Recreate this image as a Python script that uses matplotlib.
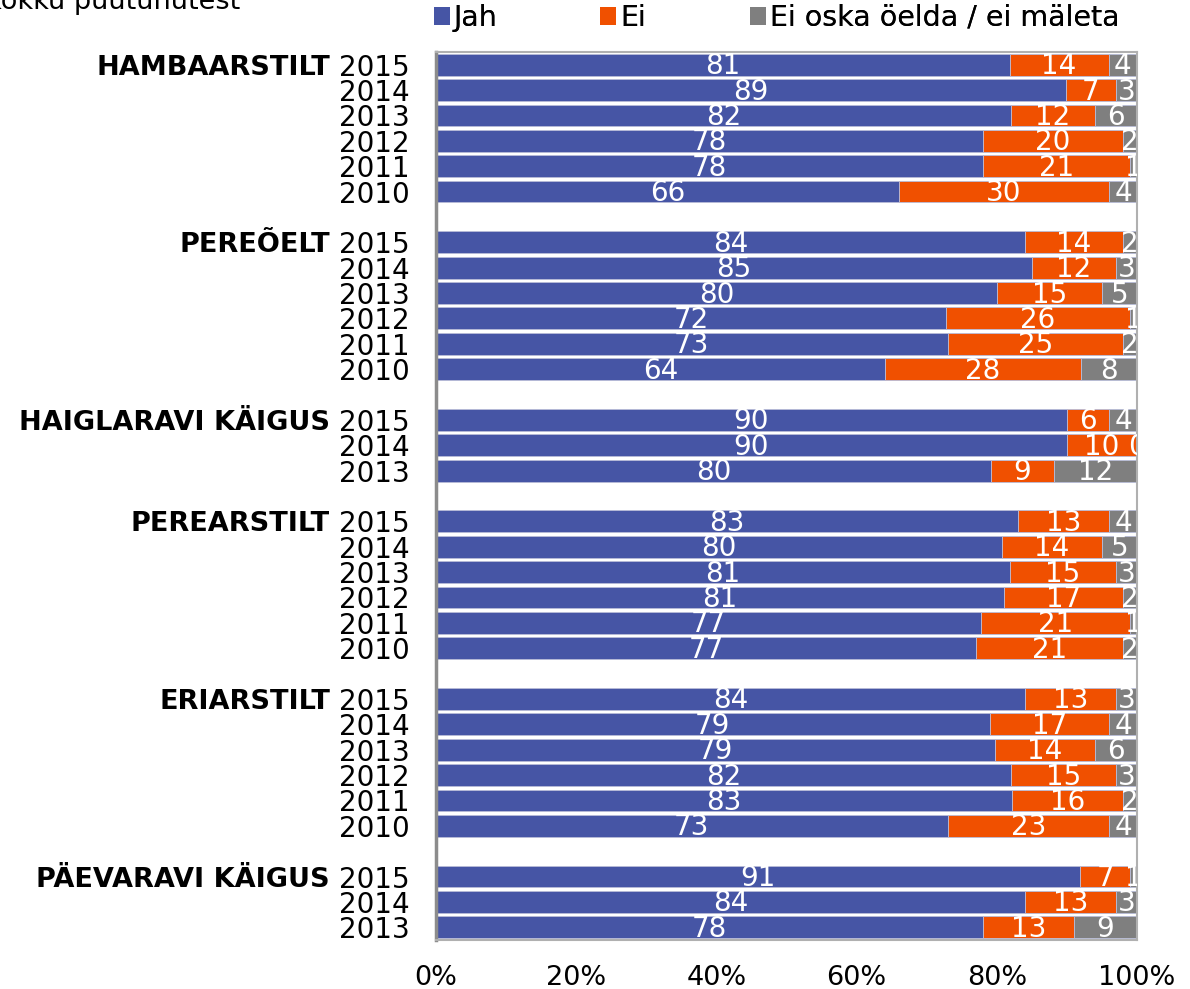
import matplotlib.pyplot as plt
import matplotlib.transforms as mtransforms
from matplotlib.patches import Patch
import numpy as np

groups = ['HAMBAARSTILT', 'PEREÕELT', 'HAIGLARAVI KÄIGUS', 'PEREARSTILT', 'ERIARSTILT', 'PÄEVARAVI KÄIGUS']
years = [
    ['2015', '2014', '2013', '2012', '2011', '2010'],
    ['2015', '2014', '2013', '2012', '2011', '2010'],
    ['2015', '2014', '2013'],
    ['2015', '2014', '2013', '2012', '2011', '2010'],
    ['2015', '2014', '2013', '2012', '2011', '2010'],
    ['2015', '2014', '2013'],
]
jah = [
    [81, 89, 82, 78, 78, 66],
    [84, 85, 80, 72, 73, 64],
    [90, 90, 80],
    [83, 80, 81, 81, 77, 77],
    [84, 79, 79, 82, 83, 73],
    [91, 84, 78],
]
ei = [
    [14, 7, 12, 20, 21, 30],
    [14, 12, 15, 26, 25, 28],
    [6, 10, 9],
    [13, 14, 15, 17, 21, 21],
    [13, 17, 14, 15, 16, 23],
    [7, 13, 13],
]
ei_oska = [
    [4, 3, 6, 2, 1, 4],
    [2, 3, 5, 1, 2, 8],
    [4, 0, 12],
    [4, 5, 3, 2, 1, 2],
    [3, 4, 6, 3, 2, 4],
    [1, 3, 9],
]
series_names = ['Jah', 'Ei', 'Ei oska öelda / ei mäleta']
colors = ['#4655A5', '#F05000', '#7F7F7F']

# build rows top to bottom, one empty row between groups
ypos, labels, vals, group_rows = [], [], [], []
row = 0
for g in range(len(groups)):
    group_rows.append(row)
    for i, yr in enumerate(years[g]):
        ypos.append(row)
        labels.append(yr)
        vals.append([jah[g][i], ei[g][i], ei_oska[g][i]])
        row += 1
    row += 1
vals = np.array(vals, dtype=float)
shares = vals / vals.sum(axis=1, keepdims=True) * 100
nrows = row - 1

fig = plt.figure(figsize=(11.9, 9.89), dpi=100)
ax = fig.add_axes([436 / 1190, 1 - 940 / 989, 701 / 1190, 888 / 989])

left = np.zeros(len(ypos))
for k in range(3):
    ax.barh(ypos, shares[:, k], left=left, height=0.86, color=colors[k],
            edgecolor='#B8BCD8', linewidth=0.6, zorder=2)
    for y, l, w, v in zip(ypos, left, shares[:, k], vals[:, k]):
        ax.text(l + w / 2, y + 0.06, '%d' % v, color='white', fontsize=20,
                ha='center', va='center', clip_on=True, zorder=3)
    left += shares[:, k]

ax.set_xlim(0, 100)
ax.set_ylim(nrows - 0.5, -0.5)
ax.set_yticks(ypos)
ax.set_yticklabels(labels, fontsize=20)
ax.set_xticks([0, 20, 40, 60, 80, 100])
ax.set_xticklabels(['0%', '20%', '40%', '60%', '80%', '100%'], fontsize=19.5)
ax.tick_params(axis='y', length=0, pad=19)
ax.tick_params(axis='x', length=0, pad=18)
for s in ['top', 'right', 'bottom']:
    ax.spines[s].set_color('#B0B0B0')
    ax.spines[s].set_linewidth(1.5)
ax.spines['left'].set_color('#8C8C8C')
ax.spines['left'].set_linewidth(2.5)

trans = mtransforms.blended_transform_factory(ax.transAxes, ax.transData)
for g, r in zip(groups, group_rows):
    ax.text(-106 / 701, r, g, transform=trans, ha='right', va='center_baseline',
            fontsize=19.5, fontweight='bold')

# legend entries spaced like the original
for name, c, x in zip(series_names, colors, [434, 600, 750]):
    leg = fig.legend(handles=[Patch(facecolor=c, edgecolor='none')], labels=[name],
                     loc='center left', bbox_to_anchor=(x / 1190, 1 - 18 / 989),
                     frameon=False, fontsize=20.5, handlelength=0.55, handleheight=0.55,
                     handletextpad=0.15, borderaxespad=0, borderpad=0)
    fig.add_artist(leg)

# title is cut off at the top edge, as in the original
fig.text(-0.012, 1 - 9 / 989, 'kokku puutunutest', fontsize=19.5, va='baseline', ha='left')

fig.savefig('out.png', dpi=100)
